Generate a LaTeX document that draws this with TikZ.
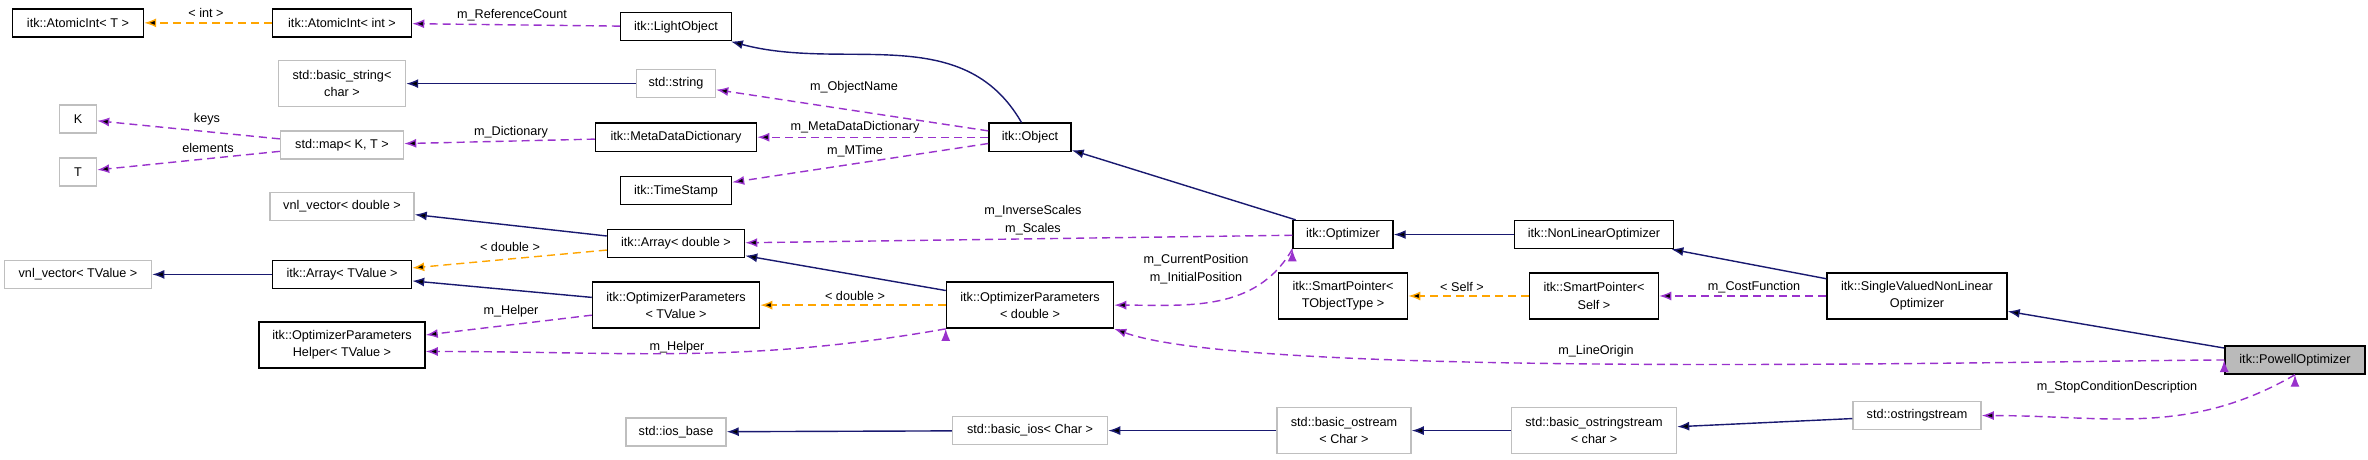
\documentclass[tikz,border=0pt]{standalone}
\usepackage{fontspec}
\setmainfont{Liberation Sans}
\usetikzlibrary{arrows.meta}
\definecolor{inhcol}{RGB}{25,25,112}
\definecolor{usecol}{RGB}{153,50,204}
\definecolor{tplcol}{RGB}{255,165,0}
\begin{document}
\begin{tikzpicture}[x=0.01cm,y=-0.00653cm,
  cls node/.style={draw=black,line width=0.4pt,minimum height=0.28cm,inner sep=1pt,align=center,font=\fontsize{3.6}{4.9}\selectfont},
  ext node/.style={cls node,draw=black!25},
  tall/.style={minimum height=0.46cm},
  lbl/.style={inner sep=0pt,font=\fontsize{3.6}{4.9}\selectfont,align=center},
  inh/.style={draw=inhcol,line width=0.4pt,-{Latex[length=0.12cm,width=0.09cm]}},
  use/.style={draw=usecol,line width=0.4pt,dash pattern=on 0.08cm off 0.05cm,-{Latex[length=0.12cm,width=0.09cm]}},
  tpl/.style={draw=tplcol,line width=0.4pt,dash pattern=on 0.08cm off 0.05cm,-{Latex[length=0.12cm,width=0.09cm]}}]

  \node[cls node,minimum width=1.31cm] (n0) at (78,35) {itk::AtomicInt< T >};
  \node[cls node,minimum width=1.39cm] (n1) at (342,35) {itk::AtomicInt< int >};
  \node[cls node,minimum width=1.11cm] (n2) at (676,41) {itk::LightObject};
  \node[ext node,tall,minimum width=1.27cm] (n3) at (342,128) {std::basic\_string<\\char >};
  \node[ext node,minimum width=0.79cm] (n4) at (676,128) {std::string};
  \node[ext node,minimum width=0.37cm] (n5) at (78,182) {K};
  \node[ext node,minimum width=0.37cm] (n6) at (78,263) {T};
  \node[ext node,minimum width=1.23cm] (n7) at (342,222) {std::map< K, T >};
  \node[cls node,minimum width=1.61cm] (n8) at (676,210) {itk::MetaDataDictionary};
  \node[cls node,minimum width=1.11cm] (n9) at (676,292) {itk::TimeStamp};
  \node[ext node,minimum width=1.44cm] (n10) at (342,316) {vnl\_vector< double >};
  \node[cls node,minimum width=1.37cm] (n11) at (676,373) {itk::Array< double >};
  \node[ext node,minimum width=1.47cm] (n12) at (78,420) {vnl\_vector< TValue >};
  \node[cls node,minimum width=1.39cm] (n13) at (342,420) {itk::Array< TValue >};
  \node[cls node,tall,minimum width=1.67cm] (n14) at (676,467) {itk::OptimizerParameters\\< TValue >};
  \node[cls node,tall,minimum width=1.66cm] (n15) at (342,528) {itk::OptimizerParameters\\Helper< TValue >};
  \node[ext node,minimum width=1.00cm] (n16) at (676,661) {std::ios\_base};
  \node[cls node,minimum width=0.82cm] (n17) at (1030,210) {itk::Object};
  \node[cls node,minimum width=1.00cm] (n18) at (1343,359) {itk::Optimizer};
  \node[cls node,minimum width=1.59cm] (n19) at (1594,359) {itk::NonLinearOptimizer};
  \node[cls node,tall,minimum width=1.67cm] (n20) at (1030,467) {itk::OptimizerParameters\\< double >};
  \node[cls node,tall,minimum width=1.29cm] (n21) at (1343,453) {itk::SmartPointer<\\TObjectType >};
  \node[cls node,tall,minimum width=1.29cm] (n22) at (1594,453) {itk::SmartPointer<\\Self >};
  \node[ext node,minimum width=1.55cm] (n23) at (1030,659) {std::basic\_ios< Char >};
  \node[ext node,tall,minimum width=1.34cm] (n24) at (1344,659) {std::basic\_ostream\\< Char >};
  \node[ext node,tall,minimum width=1.65cm] (n25) at (1594,659) {std::basic\_ostringstream\\< char >};
  \node[cls node,tall,minimum width=1.80cm] (n26) at (1917,453) {itk::SingleValuedNonLinear\\Optimizer};
  \node[cls node,fill=black!27,minimum width=1.40cm] (n27) at (2295,551) {itk::PowellOptimizer};
  \node[ext node,minimum width=1.28cm] (n28) at (1917,636) {std::ostringstream};

  % inheritance
  \path (n17) [inh] edge [out=120,in=-15] (n2);
  \path (n4) [inh] edge (n3);
  \path (n11) [inh] edge (n10);
  \path (n13) [inh] edge (n12);
  \path (n14) [inh] edge (n13);
  \path (n20) [inh] edge (n11);
  \path (n18) [inh] edge (n17);
  \path (n19) [inh] edge (n18);
  \path (n26) [inh] edge (n19);
  \path (n27) [inh] edge (n26);
  \path (n23) [inh] edge (n16);
  \path (n24) [inh] edge (n23);
  \path (n25) [inh] edge (n24);
  \path (n28) [inh] edge (n25);

  % members
  \path (n2) [use] edge (n1);
  \path (n17) [use] edge (n4);
  \path (n17) [use] edge (n8);
  \path (n17) [use] edge (n9);
  \path (n7) [use] edge (n5);
  \path (n7) [use] edge (n6);
  \path (n8) [use] edge (n7);
  \path (n18) [use] edge (n11);
  \path (n18.south west) [use] edge [out=-120,in=0] (n20.east);
  \path (n14) [use] edge (n15);
  \path (n20.south west) [use] edge [out=-170,in=0] ([yshift=-0.065cm]n15.east);
  \path (n27.west) [use] edge [out=180,in=-20,looseness=0.35] (n20.south east);
  \path (n26) [use] edge (n22);
  \path (n27.south) [use] edge [out=-150,in=0] (n28.east);

  % templates
  \path (n1) [tpl] edge (n0);
  \path (n11) [tpl] edge (n13);
  \path (n20) [tpl] edge (n14);
  \path (n22) [tpl] edge (n21);

  \node[lbl] at (206,20) {< int >};
  \node[lbl] at (512,24) {m\_ReferenceCount};
  \node[lbl] at (854,134) {m\_ObjectName};
  \node[lbl] at (855,195) {m\_MetaDataDictionary};
  \node[lbl] at (855,231) {m\_MTime};
  \node[lbl] at (207,183) {keys};
  \node[lbl] at (208,226) {elements};
  \node[lbl] at (511,202) {m\_Dictionary};
  \node[lbl] at (1033,337) {m\_InverseScales\\m\_Scales};
  \node[lbl] at (510,378) {< double >};
  \node[lbl] at (511,476) {m\_Helper};
  \node[lbl] at (677,532) {m\_Helper};
  \node[lbl] at (1196,412) {m\_CurrentPosition\\m\_InitialPosition};
  \node[lbl] at (855,453) {< double >};
  \node[lbl] at (1462,439) {< Self >};
  \node[lbl] at (1754,439) {m\_CostFunction};
  \node[lbl] at (1596,537) {m\_LineOrigin};
  \node[lbl] at (2117,592) {m\_StopConditionDescription};

  \pgfresetboundingbox
  \path[use as bounding box] (0,0) rectangle (2368,703);
\end{tikzpicture}
\end{document}
